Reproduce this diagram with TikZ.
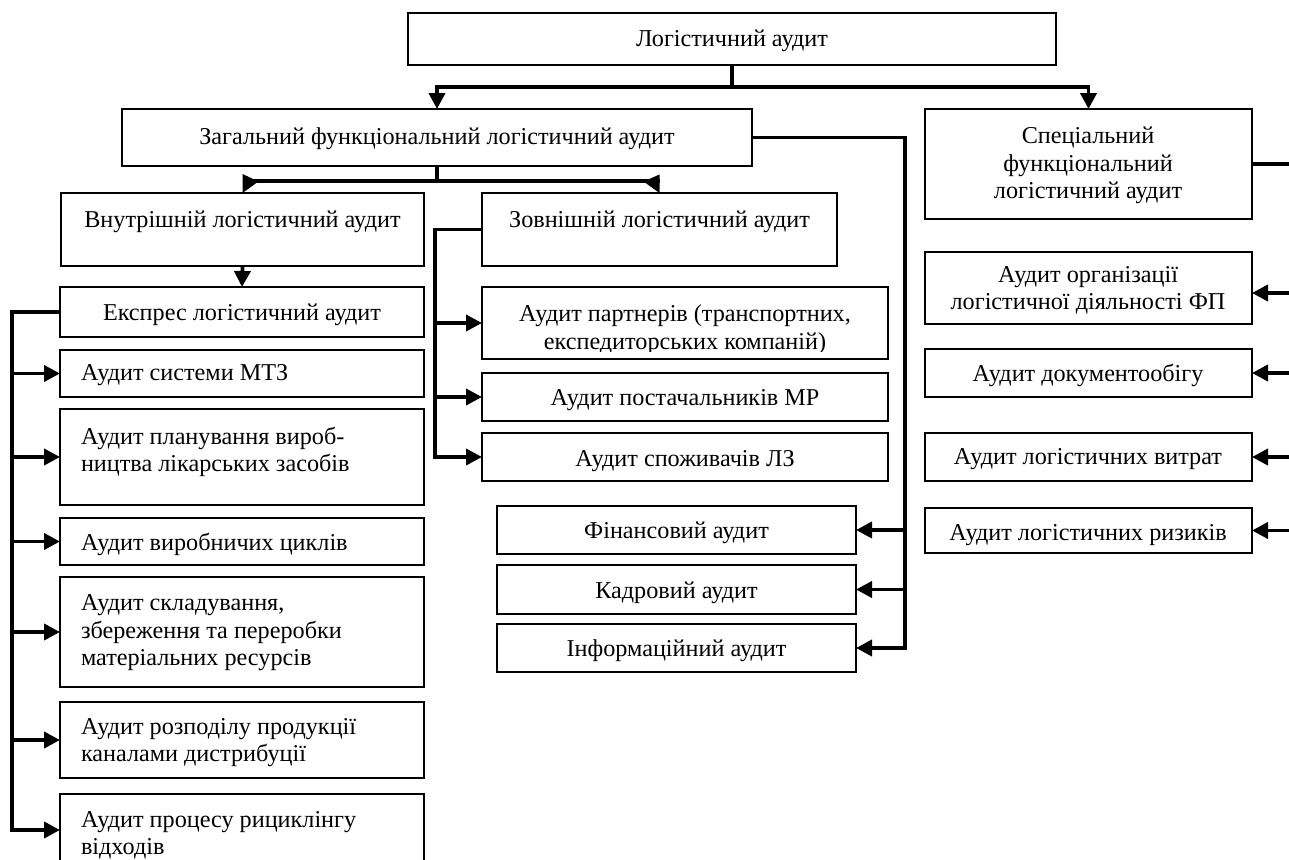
\documentclass[tikz,border=0pt]{standalone}
\usepackage{fontspec}
\setmainfont{Liberation Serif}
\usetikzlibrary{arrows.meta}
\tikzset{
  box/.style={draw=black,line width=1.3pt,rectangle,inner sep=0pt,outer sep=0pt},
  txt/.style={inner sep=0pt,outer sep=0pt,yshift=-2pt,font=\fontsize{24.2}{27.5}\selectfont},
  conn/.style={draw=black,line width=3.8pt},
  arr/.style={-{Triangle[length=16pt,width=16pt]}},
}
\newcommand\bx[5]{\node[box,minimum width={(#4)-(#2)},minimum height={(#5)-(#3)}] (#1) at ({((#2)+(#4))/2},{((#3)+(#5))/2}) {};}
\begin{document}
\begin{tikzpicture}[x=1pt,y=-1pt]
\path[fill=white] (0,0) rectangle (1289,859);
\useasboundingbox (0,0) rectangle (1289,859);
% boxes
\bx{top}{408}{13}{1056}{65}
\bx{zag}{122}{109}{752}{166}
\bx{sp}{925}{109}{1252}{219}
\bx{vn}{61}{193}{424}{266}
\bx{zv}{482}{193}{837}{266}
\bx{ex}{60}{287}{424}{337}
\bx{mtz}{60}{350}{424}{397}
\bx{pl}{60}{409}{424}{505}
\bx{vc}{60}{518}{424}{565}
\bx{sk}{60}{577}{424}{687}
\bx{rz}{60}{702}{424}{778}
\bx{rc}{60}{794}{424}{866}
\bx{pt}{482}{287}{888}{359}
\bx{mp}{482}{373}{888}{421}
\bx{lz}{482}{433}{888}{481}
\bx{fin}{497}{506}{856}{554}
\bx{kad}{497}{565}{856}{614}
\bx{inf}{497}{624}{856}{672}
\bx{org}{925}{252}{1252}{324}
\bx{doc}{925}{349}{1252}{397}
\bx{vyt}{925}{433}{1252}{481}
\bx{riz}{925}{508}{1252}{553}
% texts
\node[txt] (topT) at (732,39) {Логістичний аудит};
\node[txt] (zagT) at (437,137) {Загальний функціональний логістичний аудит};
\node[txt,align=center] (spT) at (1088,163.5) {Спеціальний\\функціональний\\логістичний аудит};
\node[txt] (vnT) at (242.5,220) {Внутрішній логістичний аудит};
\node[txt] (zvT) at (659.5,220) {Зовнішній логістичний аудит};
\node[txt] (exT) at (242,313) {Експрес логістичний аудит};
\node[txt,anchor=west] (mtzT) at (81,373) {Аудит системи МТЗ};
\node[txt,anchor=west,align=left] (plT) at (81,450) {Аудит планування вироб-\\ництва лікарських засобів};
\node[txt,anchor=west] (vcT) at (81,542) {Аудит виробничих циклів};
\node[txt,anchor=west,align=left] (skT) at (81,631) {Аудит складування,\\збереження та переробки\\матеріальних ресурсів};
\node[txt,anchor=west,align=left] (rzT) at (81,740.5) {Аудит розподілу продукції\\каналами дистрибуції};
\node[txt,anchor=west,align=left] (rcT) at (81,833.5) {Аудит процесу рициклінгу\\відходів};
\begin{scope}
\clip (482,287) rectangle (888,351);
\node[txt,align=center] (ptT) at (685,327.5) {Аудит партнерів (транспортних,\\експедиторських компаній)};
\end{scope}
\node[txt] (mpT) at (685,398) {Аудит постачальників МР};
\node[txt] (lzT) at (685,459) {Аудит споживачів ЛЗ};
\node[txt] (finT) at (676.5,531) {Фінансовий аудит};
\node[txt] (kadT) at (676.5,591) {Кадровий аудит};
\node[txt] (infT) at (676.5,649) {Інформаційний аудит};
\node[txt,align=center] (orgT) at (1088,288.5) {Аудит організації\\логістичної діяльності ФП};
\node[txt] (docT) at (1088,373) {Аудит документообігу};
\node[txt] (vytT) at (1088,457) {Аудит логістичних витрат};
\node[txt] (rizT) at (1088,533) {Аудит логістичних ризиків};
% connectors: top
\coordinate (tj) at (732,87);
\draw[conn] (top.south) -- (tj);
\draw[conn,arr] (tj) -| (zag.north);
\draw[conn,arr] (tj) -| (sp.north);
% zag -> vn / zv
\coordinate (zj) at (437,181);
\draw[conn] (zag.south) -- (zj);
\draw[conn] (vn.north |- zj) -- (zv.north |- zj);
\fill (vn.north) -- ++(0,-19) -- ++(16,7.5) -- cycle;
\fill (zv.north) -- ++(0,-18.5) -- ++(-16,7) -- cycle;
% vn -> ex
\draw[conn,arr] (vn.south) -- (ex.north);
% left bus
\coordinate (lb) at (12,312);
\draw[conn,arr] (ex.west) -- (lb) |- (rc.west);
\draw[conn,arr] (lb |- mtz.west) -- (mtz.west);
\draw[conn,arr] (lb |- pl.west) -- (pl.west);
\draw[conn,arr] (lb |- vc.west) -- (vc.west);
\draw[conn,arr] (lb |- sk.west) -- (sk.west);
\draw[conn,arr] (lb |- rz.west) -- (rz.west);
% zv bus
\coordinate (zb) at (435,229.5);
\draw[conn,arr] (zv.west) -- (zb) |- (lz.west);
\draw[conn,arr] (zb |- pt.west) -- (pt.west);
\draw[conn,arr] (zb |- mp.west) -- (mp.west);
% zag right bus
\coordinate (rb) at (905,137.5);
\draw[conn,arr] (zag.east) -- (rb) |- (inf.east);
\draw[conn,arr] (rb |- fin.east) -- (fin.east);
\draw[conn,arr] (rb |- kad.east) -- (kad.east);
% special right bus
\coordinate (sb) at (1289,164);
\draw[conn] (sp.east) -- (sb);
\draw[conn,arr] (sb |- 0,293) -- ([yshift=-5pt]org.east);
\draw[conn,arr] (sb |- doc.east) -- (doc.east);
\draw[conn,arr] (sb |- vyt.east) -- (vyt.east);
\draw[conn,arr] (sb |- riz.east) -- (riz.east);
\end{tikzpicture}
\end{document}
